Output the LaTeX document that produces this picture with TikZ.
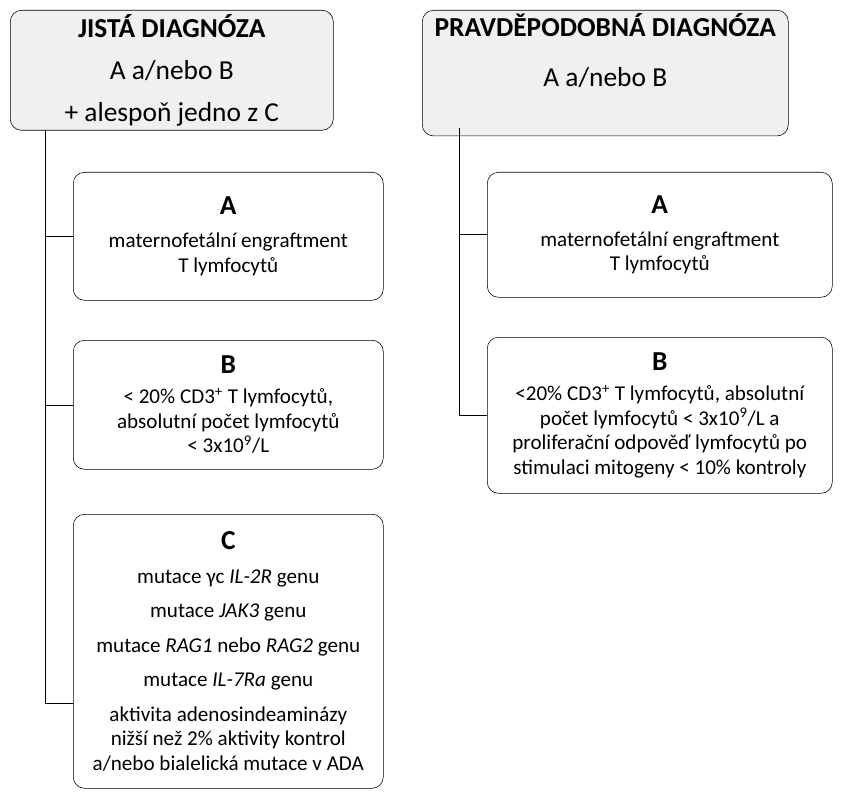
\documentclass[tikz,border=0pt]{standalone}
\usepackage{fontspec}
\setmainfont{Carlito}
\begin{document}
\begin{tikzpicture}[x=0.025cm,y=-0.025cm,
    box/.style={draw,thin,rounded corners=8pt,align=center,inner sep=2pt,anchor=north west},
    head/.style={box,fill=gray!12,font=\fontsize{19.5}{30}\selectfont},
    item/.style={box,font=\fontsize{15}{17.5}\selectfont},
    link/.style={draw,thin}]
  \useasboundingbox (0,0) rectangle (847,800);
  % top boxes
  \node[head,minimum width=323*0.025cm,minimum height=120*0.025cm] (jista) at (10,10)
    {\textbf{JISTÁ DIAGNÓZA}\\ A a/nebo B\\ + alespoň jedno z C};
  \node[head,minimum width=366*0.025cm,minimum height=118*0.025cm] (prav) at (422,10)
    {\textbf{PRAVDĚPODOBNÁ DIAGNÓZA}\\[6pt] A a/nebo B\\[-6pt] \strut};
  % left column
  \node[item,minimum width=310*0.025cm,minimum height=128*0.025cm] (la) at (73,172)
    {{\fontsize{19.5}{24}\selectfont\textbf{A}}\\[6pt] maternofetální engraftment\\ T lymfocytů};
  \node[item,minimum width=310*0.025cm,minimum height=129*0.025cm] (lb) at (73,340)
    {{\fontsize{19.5}{22}\selectfont\textbf{B}}\\[4pt] < 20\% CD3\textsuperscript{+} T lymfocytů,\\ absolutní počet lymfocytů\\ < 3x10\textsuperscript{9}/L};
  \node[item,minimum width=310*0.025cm,minimum height=274*0.025cm] (lc) at (73,514)
    {{\fontsize{19.5}{20}\selectfont\textbf{C}}\\[7pt] mutace γc \textit{IL-2R} genu\\[7pt] mutace \textit{JAK3} genu\\[7pt]
     mutace \textit{RAG1} nebo \textit{RAG2} genu\\[7pt] mutace \textit{IL-7Ra} genu\\[7pt]
     aktivita adenosindeaminázy\\ nižší než 2\% aktivity kontrol\\ a/nebo bialelická mutace v ADA};
  % right column
  \node[item,minimum width=345*0.025cm,minimum height=125*0.025cm] (ra) at (487,172)
    {{\fontsize{19.5}{24}\selectfont\textbf{A}}\\[6pt] maternofetální engraftment\\ T lymfocytů};
  \node[item,minimum width=345*0.025cm,minimum height=156*0.025cm] (rb) at (487,337)
    {{\fontsize{19.5}{22}\selectfont\textbf{B}}\\[4pt] <20\% CD3\textsuperscript{+} T lymfocytů, absolutní\\ počet lymfocytů < 3x10\textsuperscript{9}/L a\\
     proliferační odpověď lymfocytů po\\ stimulaci mitogeny < 10\% kontroly};
  % connectors
  \coordinate (lt) at (45,130);
  \coordinate (lend) at (45,703);
  \coordinate (rt) at (459,128);
  \coordinate (rend) at (459,415);
  \draw[link] (lt) -- (lend) -- (lc.west |- lend);
  \draw[link] (lt |- la.west) -- (la.west);
  \draw[link] (lt |- lb.west) -- (lb.west);
  \draw[link] (rt) -- (rend) -- (rb.west |- rend);
  \draw[link] (rt |- ra.west) -- (ra.west);
\end{tikzpicture}
\end{document}
